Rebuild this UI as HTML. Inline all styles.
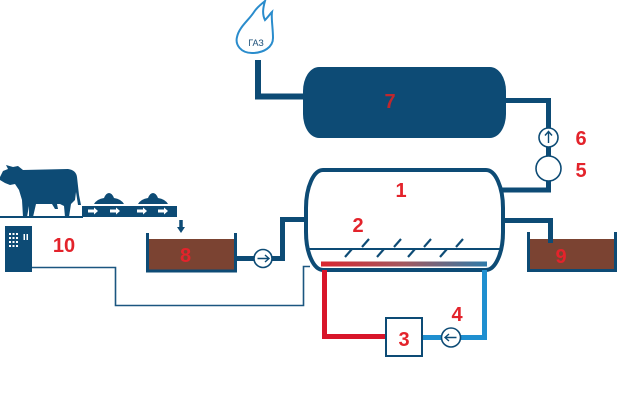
<!DOCTYPE html>
<html>
<head>
<meta charset="utf-8">
<style>
html,body{margin:0;padding:0;background:#fff;}
svg{display:block;}
.lbl{font-family:"Liberation Sans",sans-serif;font-weight:bold;font-size:20px;fill:#e3232b;text-anchor:middle;}
</style>
</head>
<body>
<svg width="633" height="404" viewBox="0 0 633 404" xmlns="http://www.w3.org/2000/svg">
<defs>
<linearGradient id="heat" x1="0" x2="1" y1="0" y2="0">
<stop offset="0" stop-color="#d9262f"/>
<stop offset="0.5" stop-color="#a2585f"/>
<stop offset="1" stop-color="#2f7aa8"/>
</linearGradient>
</defs>

<!-- flame -->
<path d="M252,53 C241,53 235,45 237,37 C239,27 249,20 254,12 C258,6 263,3 265,1 C263,8 262,14 265,20 C268,17 270,14 272,12 C271,18 273,28 273,38 C273,47 264,53 252,53 Z" fill="none" stroke="#2a8ccc" stroke-width="2"/>
<text x="256" y="46" font-family="Liberation Sans,sans-serif" font-size="9" fill="#1b4f78" text-anchor="middle">ГАЗ</text>

<!-- gas pipe to tank 7 -->
<path d="M258,60 V96.5 H305" fill="none" stroke="#0d4b75" stroke-width="6"/>

<!-- tank 7 -->
<rect x="303" y="67" width="203" height="71" rx="16" ry="24" fill="#0d4b75"/>
<text class="lbl" x="390" y="108" style="fill:#c0272d">7</text>

<!-- pipe 7 -> 6 -> 5 -> tank1 -->
<path d="M504,100.5 H548.5 V190 H500" fill="none" stroke="#0d4b75" stroke-width="5"/>
<circle cx="548.5" cy="137.5" r="9.5" fill="#fff" stroke="#0d4b75" stroke-width="1.6"/>
<path d="M548.5,143 V132 M545,135.5 L548.5,131.5 L552,135.5" fill="none" stroke="#0d4b75" stroke-width="1.4"/>
<circle cx="548.5" cy="168.5" r="12.5" fill="#fff" stroke="#0d4b75" stroke-width="1.6"/>
<text class="lbl" x="581" y="145">6</text>
<text class="lbl" x="581" y="177">5</text>

<!-- tank 1 -->
<rect x="306" y="170" width="197" height="100" rx="17" ry="38" fill="#fff" stroke="#0d4b75" stroke-width="4"/>
<line x1="308" y1="249" x2="501" y2="249" stroke="#0d4b75" stroke-width="2"/>
<g stroke="#0d4b75" stroke-width="2.2" stroke-linecap="butt">
<line x1="362" y1="247" x2="369" y2="239"/>
<line x1="394" y1="247" x2="401" y2="239"/>
<line x1="424" y1="247" x2="431" y2="239"/>
<line x1="456" y1="247" x2="463" y2="239"/>
<line x1="345" y1="257" x2="352" y2="249"/>
<line x1="377" y1="257" x2="384" y2="249"/>
<line x1="408" y1="257" x2="415" y2="249"/>
<line x1="440" y1="257" x2="447" y2="249"/>
</g>
<rect x="321" y="261.5" width="166" height="5" fill="url(#heat)"/>
<text class="lbl" x="401" y="197">1</text>
<text class="lbl" x="358" y="232">2</text>

<!-- heating loop -->
<path d="M324.5,270 V336.5 H386" fill="none" stroke="#d8152a" stroke-width="5"/>
<path d="M423,337.5 H484.5 V270" fill="none" stroke="#1f8fd0" stroke-width="5"/>
<rect x="386" y="318" width="36" height="38" fill="#fff" stroke="#0d4b75" stroke-width="2"/>
<text class="lbl" x="404" y="346">3</text>
<circle cx="451" cy="337.5" r="9.5" fill="#fff" stroke="#0d4b75" stroke-width="1.6"/>
<path d="M456.5,337.5 H445.5 M449,334 L445,337.5 L449,341" fill="none" stroke="#0d4b75" stroke-width="1.4"/>
<text class="lbl" x="457" y="321">4</text>

<!-- outlet to tank 9 -->
<path d="M503,220.5 H550.5 V243" fill="none" stroke="#0d4b75" stroke-width="5"/>
<rect x="529" y="239" width="86" height="31" fill="#7b4332"/>
<path d="M528.5,232 V270.5 H615.5 V232" fill="none" stroke="#0d4b75" stroke-width="3"/>
<line x1="550.5" y1="239" x2="550.5" y2="243" stroke="#0d4b75" stroke-width="5"/>
<text class="lbl" x="561" y="263">9</text>

<!-- tank 8 -->
<rect x="148" y="239" width="87" height="32" fill="#7b4332"/>
<path d="M147.5,233 V271 H235.5 V233" fill="none" stroke="#0d4b75" stroke-width="3"/>
<text class="lbl" x="185.5" y="262">8</text>
<!-- down arrow -->
<path d="M181,220 V228" stroke="#0d4b75" stroke-width="3.5"/>
<path d="M177,227 H185 L181,233 Z" fill="#0d4b75"/>

<!-- pipe 8 -> pump -> tank1 -->
<path d="M236,258.5 H254" stroke="#0d4b75" stroke-width="5"/>
<path d="M272,258.5 H282.5 V219.5 H306" fill="none" stroke="#0d4b75" stroke-width="5"/>
<circle cx="263" cy="258.5" r="9" fill="#fff" stroke="#0d4b75" stroke-width="1.6"/>
<path d="M257.5,258.5 H268.5 M265,255 L269,258.5 L265,262" fill="none" stroke="#0d4b75" stroke-width="1.4"/>

<!-- control line from 10 -->
<path d="M32,267.5 H115.5 V305.5 H303.5 V266.5 H310" fill="none" stroke="#1b5680" stroke-width="1.6"/>

<!-- box 10 -->
<rect x="5" y="226" width="27" height="46" fill="#0d4b75"/>
<g fill="#fff">
<rect x="9" y="233" width="2" height="2"/><rect x="12.5" y="233" width="2" height="2"/><rect x="16" y="233" width="2" height="2"/>
<rect x="9" y="237" width="2" height="2"/><rect x="12.5" y="237" width="2" height="2"/><rect x="16" y="237" width="2" height="2"/>
<rect x="9" y="241" width="2" height="2"/><rect x="12.5" y="241" width="2" height="2"/><rect x="16" y="241" width="2" height="2"/>
<rect x="9" y="245" width="2" height="2"/><rect x="12.5" y="245" width="2" height="2"/><rect x="16" y="245" width="2" height="2"/>
<rect x="23.5" y="234" width="1.5" height="6"/><rect x="26.5" y="234" width="1.5" height="6"/>
</g>
<text class="lbl" x="64" y="252">10</text>

<!-- cow -->
<path d="M0,177 L3,171 L8,169 L6,165 L13,167 L18,166 L23,170 L68,169 Q76,170 77,177 L79,195 L81,205 L78,205 L76,192 L75,200 L71,204 L69,217 L65,217 L64,206 L60,204 L57,204 L58,209 L55,209 L52,204 L36,204 L33,217 L29,217 L29,206 L27,217 L23,217 L22,200 L19,190 L15,184 L10,185 L5,183 L0,180 Z" fill="#0d4b75"/>
<rect x="0" y="216" width="83" height="2" fill="#0d4b75"/>

<!-- conveyor -->
<rect x="82" y="206" width="95" height="11" fill="#0d4b75"/>
<g fill="#fff">
<path d="M88,209.5 H94 V207.5 L98,211 L94,214.5 V212.5 H88 Z"/>
<path d="M110,209.5 H116 V207.5 L120,211 L116,214.5 V212.5 H110 Z"/>
<path d="M137,209.5 H143 V207.5 L147,211 L143,214.5 V212.5 H137 Z"/>
<path d="M158,209.5 H164 V207.5 L168,211 L164,214.5 V212.5 H158 Z"/>
</g>
<path d="M94,204 Q97,199 104,198 Q106,193 109,193 Q112,193 114,198 Q121,199 124,204 Z" fill="#0d4b75"/>
<path d="M138,204 Q141,199 148,198 Q150,193 153,193 Q156,193 158,198 Q165,199 168,204 Z" fill="#0d4b75"/>
</svg>
</body>
</html>
